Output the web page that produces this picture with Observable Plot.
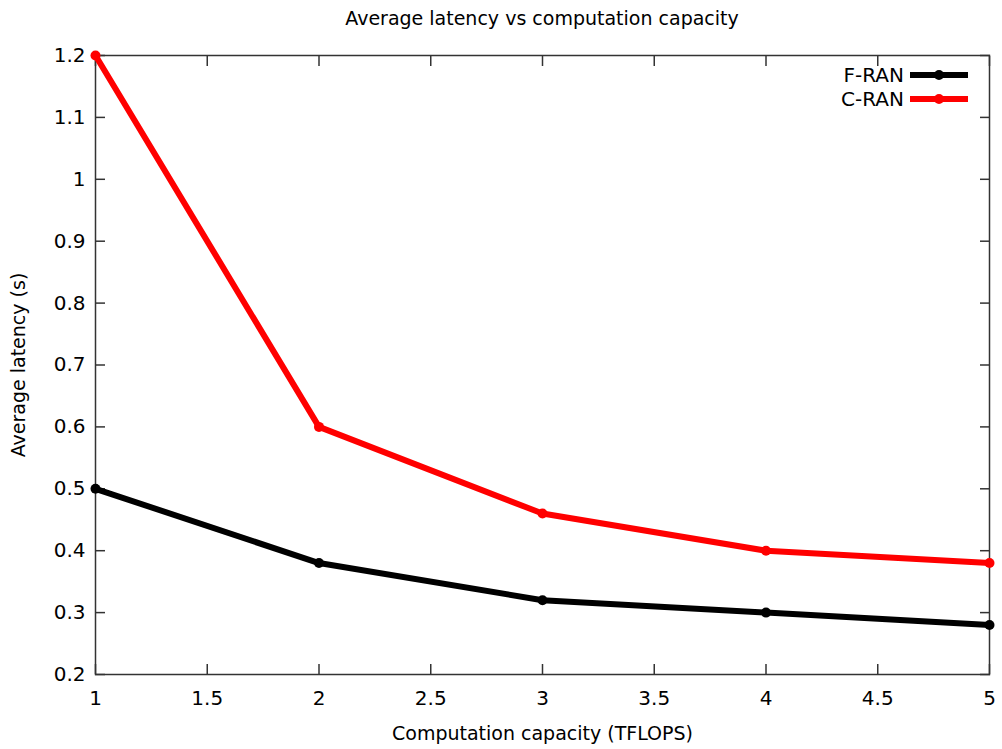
<!DOCTYPE html>
<html>
<head>
<meta charset="utf-8">
<script src="https://cdn.jsdelivr.net/npm/d3@7"></script>
<script src="https://cdn.jsdelivr.net/npm/@observablehq/plot@0.6"></script>
<style>
  body { margin: 0; background: #fff; font-family: "DejaVu Sans", sans-serif; }
  #wrap { position: relative; width: 1002px; height: 749px; }
  #title { position: absolute; left: 0; top: 6px; width: 1084px; text-align: center; font-size: 19px; line-height: 24px; color: #000; }
  #legend { position: absolute; right: 32px; top: 63px; font-size: 20px; }
  #legend .row { display: flex; align-items: center; justify-content: flex-end; height: 24px; }
  #legend svg { margin-left: 4px; }
  #chart { position: absolute; left: 0; top: 0; }
</style>
</head>
<body>
<div id="wrap">
  <div id="chart"></div>
  <div id="title">Average latency vs computation capacity</div>
  <div id="legend"></div>
</div>
<script>
const capacity = [1, 2, 3, 4, 5];
const fran = [0.50, 0.38, 0.32, 0.30, 0.28];
const cran = [1.20, 0.60, 0.46, 0.40, 0.38];
const seriesNames = ["F-RAN", "C-RAN"];
const seriesColors = ["#000000", "#ff0000"];
const xTicks = [1, 1.5, 2, 2.5, 3, 3.5, 4, 4.5, 5];
const yTicks = [0.2, 0.3, 0.4, 0.5, 0.6, 0.7, 0.8, 0.9, 1.0, 1.1, 1.2];

const data = [];
capacity.forEach((c, i) => {
  data.push({series: seriesNames[0], x: c, y: fran[i]});
  data.push({series: seriesNames[1], x: c, y: cran[i]});
});

const fmt = d => String(+d.toFixed(1));
const none = () => "";

const chart = Plot.plot({
  width: 1002,
  height: 749,
  marginLeft: 95,
  marginRight: 13,
  marginTop: 55,
  marginBottom: 75,
  style: {fontFamily: "DejaVu Sans, sans-serif", fontSize: "20px", color: "#000", background: "#fff"},
  x: {domain: [1, 5], ticks: xTicks, tickFormat: fmt},
  y: {domain: [0.2, 1.2], ticks: yTicks, tickFormat: fmt},
  color: {domain: seriesNames, range: seriesColors},
  marks: [
    Plot.frame({stroke: "#333", strokeWidth: 1.5}),
    Plot.axisX({anchor: "bottom", ticks: xTicks, tickFormat: fmt, tickSize: -10, tickPadding: 26, stroke: "#333", strokeWidth: 1.5, fontSize: 20, label: null}),
    Plot.axisX({anchor: "bottom", ticks: [], label: "Computation capacity (TFLOPS)", labelAnchor: "center", labelOffset: 65, labelArrow: "none", fontSize: 19}),
    Plot.axisX({anchor: "top", ticks: xTicks, tickFormat: none, tickSize: -10, stroke: "#333", strokeWidth: 1.5, label: null}),
    Plot.axisY({anchor: "left", ticks: yTicks, tickFormat: fmt, tickSize: -10, tickPadding: 20, stroke: "#333", strokeWidth: 1.5, fontSize: 20, label: null}),
    Plot.axisY({anchor: "left", ticks: [], label: "Average latency (s)", labelAnchor: "center", labelOffset: 84, labelArrow: "none", fontSize: 19}),
    Plot.axisY({anchor: "right", ticks: yTicks, tickFormat: none, tickSize: -10, stroke: "#333", strokeWidth: 1.5, label: null}),
    Plot.line(data, {x: "x", y: "y", z: "series", stroke: "series", strokeWidth: 6, strokeLinejoin: "round"}),
    Plot.dot(data, {x: "x", y: "y", fill: "series", r: 5})
  ]
});
document.getElementById("chart").appendChild(chart);

const legend = document.getElementById("legend");
seriesNames.forEach((name, i) => {
  const row = document.createElement("div");
  row.className = "row";
  row.innerHTML = `<span>${name}</span><svg width="62" height="14"><line x1="2" y1="7" x2="60" y2="7" stroke="${seriesColors[i]}" stroke-width="6"/><circle cx="31" cy="7" r="5" fill="${seriesColors[i]}"/></svg>`;
  legend.appendChild(row);
});
</script>
</body>
</html>
